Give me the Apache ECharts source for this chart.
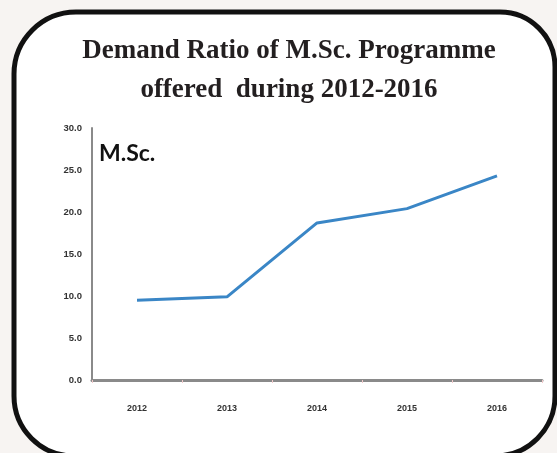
<!DOCTYPE html>
<html lang="en">
<head>
    <meta charset="UTF-8">
    <title>Demand Ratio of M.Sc. Programme</title>
    <script src="https://cdn.jsdelivr.net/npm/echarts@6/dist/echarts.min.js"></script>
    <style>
        html, body { margin: 0; padding: 0; background: #f7f4f2; }
        #container { width: 557px; height: 453px; }
    </style>
</head>
<body>
<div id="container"></div>
<script>
    var years = ['2012', '2013', '2014', '2015', '2016'];
    var ratio = [9.5, 9.9, 18.7, 20.4, 24.3];
    var yTicks = [0, 5, 10, 15, 20, 25, 30];

    var myChart = echarts.init(document.getElementById('container'));
    var option = {
        backgroundColor: '#f7f4f2',
        graphic: [
            {
                type: 'rect', z: -1,
                shape: { x: 14, y: 12, width: 541, height: 444, r: [62, 55, 60, 60] },
                style: { fill: '#fff', stroke: '#111', lineWidth: 5 }
            },
            {
                // title, centred a bit right of the page middle like the original
                type: 'text', x: 289, y: 32,
                style: {
                    text: 'Demand Ratio of M.Sc. Programme\noffered  during 2012-2016',
                    textAlign: 'center',
                    fontFamily: 'Liberation Serif', fontWeight: 'bold',
                    fontSize: 27, lineHeight: 39, fill: '#231f20'
                }
            },
            {
                type: 'text', left: 99, top: 142,
                style: { text: 'M.Sc.', fontFamily: 'Lato', fontWeight: 'bold', fontSize: 23, fill: '#111' }
            }
        ],
        grid: { left: 92, right: 15, top: 128, bottom: 73 },
        xAxis: {
            type: 'category',
            data: years,
            boundaryGap: true,
            axisLine: { lineStyle: { color: '#8a8a8a', width: 3 } },
            axisTick: { show: true, length: 3, lineStyle: { color: '#f0c8c8' } },
            axisLabel: { margin: 24, fontSize: 9, fontWeight: 'bold', color: '#333' }
        },
        yAxis: {
            type: 'value',
            min: yTicks[0],
            max: yTicks[yTicks.length - 1],
            interval: 5,
            splitLine: { show: false },
            axisLine: { show: true, lineStyle: { color: '#8a8a8a', width: 2 } },
            axisTick: { show: false },
            axisLabel: {
                margin: 10, fontSize: 9.5, fontWeight: 'bold', color: '#333',
                formatter: function (v) { return v.toFixed(1); }
            }
        },
        series: [{
            type: 'line',
            data: ratio,
            symbol: 'none',
            lineStyle: { color: '#3a86c6', width: 3 }
        }]
    };
    myChart.setOption(option);
</script>
</body>
</html>
